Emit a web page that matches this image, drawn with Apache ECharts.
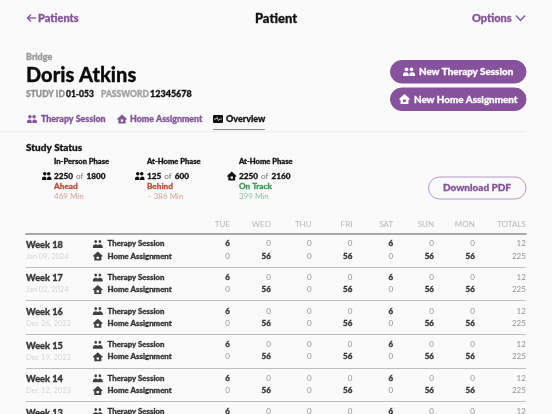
<!DOCTYPE html>
<html>
<head>
<meta charset="utf-8">
<style>html,body{margin:0;padding:0;background:#fafafa}#main{width:552px;height:414px}</style>
<script src="https://cdn.jsdelivr.net/npm/echarts@6/dist/echarts.min.js"></script>
</head>
<body>
<div id="main"></div>
<script>
var days = ['TUE', 'WED', 'THU', 'FRI', 'SAT', 'SUN', 'MON', 'TOTALS'];
var weeks = ['Week 18', 'Week 17', 'Week 16', 'Week 15', 'Week 14', 'Week 13'];
var dates = ['Jan 09, 2024', 'Jan 02, 2024', 'Dec 26, 2023', 'Dec 19, 2023', 'Dec 12, 2023'];
var therapyValues = [6, 0, 0, 0, 6, 0, 0, 12];
var homeValues = [0, 56, 0, 56, 0, 56, 56, 225];
var phaseNames = ['In-Person Phase', 'At-Home Phase', 'At-Home Phase'];
var phaseDone = [2250, 125, 2250];
var phaseTotal = [1800, 600, 2160];
var phaseState = ['Ahead', 'Behind', 'On Track'];
var phaseDelta = ['469 Min', '– 386 Min', '399 Min'];
var phaseIcons = ['people', 'people', 'house'];

var purple = '#85529b', font = 'Lato', heavy = 900;
var iconPaths = {
    people: 'M7 2a3.2 3.2 0 1 1-.01 0zM17 2a3.2 3.2 0 1 1-.01 0zM0 18c0-5 3-7 7-7 2 0 3.5.6 4.5 1.6.1.1.9.1 1 0C13.5 11.6 15 11 17 11c4 0 7 2 7 7v1H0z',
    house: 'M12 0L24 10.5 22 12.5 20.5 11V21H3.5V11L2 12.5 0 10.5zM9 12v5h6v-5z'
};

// table columns sit on a plain value axis, -5 is the left edge of the table
var colWeek = -5, colIcon = -3.24, colName = -3, colTotals = 7.25;
function colX(i) { return i === 7 ? colTotals : i; }

function textSeries(data, pos) {
    return {
        type: 'scatter', symbolSize: 0, clip: false, silent: true,
        data: data,
        label: { show: true, position: pos, distance: 0, fontFamily: font, formatter: function (p) { return p.data.value[2]; } }
    };
}
function item(x, y, text, size, weight, color) {
    var label = { fontSize: size, fontWeight: weight, color: color };
    // Lato is a bit thin next to the original face
    if (weight === heavy) { label.textBorderColor = color; label.textBorderWidth = 0.35; }
    return { value: [x, y, text], label: label };
}
function valueItem(i, y, v) {
    if (i === 7) return item(colX(i), y, v, 8, 'normal', '#777');
    return v ? item(colX(i), y, v, 8, heavy, '#111') : item(colX(i), y, v, 8, 'normal', '#777');
}
function iconSeries(name, data, w, h) {
    return { type: 'scatter', symbol: 'path://' + iconPaths[name], symbolSize: [w, h], clip: false, silent: true, itemStyle: { color: '#111' }, data: data };
}

var weekRows = [], dateRows = [], nameRows = [], cellRows = [], headRows = [], peopleRows = [], houseRows = [];
days.forEach(function (d, i) { headRows.push(item(colX(i), -0.28, d, 8, 'normal', '#a8a8a8')); });
weeks.forEach(function (w, k) {
    weekRows.push(item(colWeek, k + 0.34, w, 9.2, heavy, '#111'));
    nameRows.push(item(colName, k + 0.31, 'Therapy Session', 7.8, heavy, '#111'));
    peopleRows.push([colIcon, k + 0.31]);
    therapyValues.forEach(function (v, i) { cellRows.push(valueItem(i, k + 0.31, v)); });
    if (k < dates.length) {
        dateRows.push(item(colWeek, k + 0.68, dates[k], 7.5, 'normal', '#c8ccd0'));
        nameRows.push(item(colName, k + 0.67, 'Home Assignment', 7.8, heavy, '#111'));
        houseRows.push([colIcon, k + 0.67]);
        homeValues.forEach(function (v, i) { cellRows.push(valueItem(i, k + 0.67, v)); });
    }
});

function txt(x, y, text, size, weight, color, align) {
    var style = { text: text, fontFamily: font, fontSize: size, fontWeight: weight, fill: color, align: align || 'left', verticalAlign: 'middle' };
    if (weight === heavy) { style.stroke = color; style.lineWidth = 0.3; }
    return { type: 'text', x: x, y: y, silent: true, style: style };
}
function pill(x, y, w, h, fill, stroke) {
    return { type: 'rect', silent: true, shape: { x: x, y: y, width: w, height: h, r: h / 2 }, style: { fill: fill, stroke: stroke || fill } };
}
function line(points, color, width) {
    return { type: 'polyline', silent: true, shape: { points: points }, style: { fill: null, stroke: color, lineWidth: width } };
}
function circle(cx, cy, r, color) {
    return { type: 'circle', silent: true, shape: { cx: cx, cy: cy, r: r }, style: { fill: color } };
}
function poly(points, color) {
    return { type: 'polygon', silent: true, shape: { points: points }, style: { fill: color } };
}
function peopleIcon(x, y, w, h, color) {
    var r = h * 0.22;
    return [
        circle(x + w * 0.29, y + r, r, color),
        circle(x + w * 0.71, y + r, r, color),
        { type: 'rect', silent: true, shape: { x: x, y: y + h * 0.55, width: w * 0.47, height: h * 0.45, r: [h * 0.3, h * 0.3, 0, 0] }, style: { fill: color } },
        { type: 'rect', silent: true, shape: { x: x + w * 0.53, y: y + h * 0.55, width: w * 0.47, height: h * 0.45, r: [h * 0.3, h * 0.3, 0, 0] }, style: { fill: color } }
    ];
}
function houseIcon(x, y, w, h, color, hole) {
    return [
        poly([[x + w / 2, y], [x + w, y + h * 0.5], [x + w * 0.9, y + h * 0.6], [x + w * 0.86, y + h * 0.56], [x + w * 0.86, y + h], [x + w * 0.14, y + h], [x + w * 0.14, y + h * 0.56], [x + w * 0.1, y + h * 0.6], [x, y + h * 0.5]], color),
        { type: 'rect', silent: true, shape: { x: x + w * 0.38, y: y + h * 0.55, width: w * 0.24, height: h * 0.25 }, style: { fill: hole } }
    ];
}

var bg = '#fafafa';
var graphics = [
    line([[31, 14.5], [27.5, 18], [31, 21.5]], purple, 1.3),
    line([[27.5, 18], [36, 18]], purple, 1.3),
    txt(38, 18.5, 'Patients', 11, heavy, purple),
    txt(276, 18.5, 'Patient', 13, heavy, '#111', 'center'),
    txt(472, 18.5, 'Options', 11, heavy, purple),
    line([[516, 15.5], [520.5, 20.5], [525, 15.5]], purple, 1.3),
    txt(26, 57.5, 'Bridge', 9, heavy, '#999'),
    txt(26, 76, 'Doris Atkins', 20, heavy, '#0c0c0c'),
    txt(26, 94.5, 'STUDY ID', 8.5, heavy, '#8f8f8f'),
    txt(66, 94.5, '01-053', 8.5, heavy, '#111'),
    txt(101, 94.5, 'PASSWORD', 8.5, heavy, '#a0a0a0'),
    txt(150, 94.5, '12345678', 9, heavy, '#111'),
    txt(41, 119.5, 'Therapy Session', 8.9, heavy, purple),
    txt(130, 119.5, 'Home Assignment', 8.8, heavy, purple),
    { type: 'rect', silent: true, shape: { x: 213, y: 115, width: 10, height: 8, r: 1 }, style: { fill: '#111' } },
    line([[214, 119], [216, 119], [217, 117.5], [218.5, 120.5], [220, 119], [222, 119]], '#fff', 0.7),
    txt(226, 119.5, 'Overview', 9, heavy, '#111'),
    line([[0, 131.5], [526, 131.5]], '#f1f1f1', 1.5),
    line([[213, 129.5], [265, 129.5]], '#8c8c8c', 1.2),
    pill(390.5, 60.5, 135.5, 22.5, purple),
    txt(419, 72, 'New Therapy Session', 9.8, heavy, '#fff'),
    pill(390.5, 88, 135.5, 22.5, purple),
    txt(414, 99.5, 'New Home Assignment', 9.8, heavy, '#fff'),
    txt(26, 147.5, 'Study Status', 10, heavy, '#111'),
    pill(428.5, 177, 97.5, 22, bg, '#b898c8'),
    txt(477, 188, 'Download PDF', 10, heavy, purple, 'center')
].concat(
    peopleIcon(27, 115, 10, 8, purple),
    houseIcon(117, 114.5, 10, 9, purple, bg),
    peopleIcon(403, 67.5, 12, 8.5, '#fff'),
    houseIcon(399, 94, 11, 10, '#fff', purple)
);

var phaseX = [54, 147, 239];
var stateColor = ['#b5543f', '#b5543f', '#3f9a5c'], deltaColor = ['#d3a094', '#d3a094', '#8cc4a0'];
phaseNames.forEach(function (name, i) {
    var x = phaseX[i];
    graphics.push(txt(x, 161.5, name, 7.6, heavy, '#111'));
    graphics = graphics.concat(phaseIcons[i] === 'people' ? peopleIcon(x - 12, 172, 9.5, 8, '#111') : houseIcon(x - 12, 171.5, 9.5, 9, '#111', bg));
    graphics.push({
        type: 'text', x: x, y: 176.5, silent: true,
        style: {
            text: '{k|' + phaseDone[i] + '} {o|of} {k|' + phaseTotal[i] + '}', verticalAlign: 'middle', fontFamily: font,
            rich: {
                k: { fontFamily: font, fontSize: 8.2, fontWeight: heavy, fill: '#111', stroke: '#111', lineWidth: 0.3 },
                o: { fontFamily: font, fontSize: 8.2, fill: '#777' }
            }
        }
    });
    graphics.push(txt(x, 186.5, phaseState[i], 8.2, heavy, stateColor[i]));
    graphics.push(txt(x, 196.5, phaseDelta[i], 8, 'normal', deltaColor[i]));
});

var chart = echarts.init(document.getElementById('main'));
chart.setOption({
    animation: false,
    backgroundColor: bg,
    // the last rows run past the bottom of the window, as in the screenshot
    grid: { left: 26, top: 233.5, width: 499.8, height: 201.6, outerBoundsMode: 'none' },
    xAxis: {
        type: 'value', position: 'top', min: colWeek, max: colTotals,
        axisLine: { show: true, lineStyle: { color: '#a9a9a9', width: 2 } },
        axisTick: { show: false }, axisLabel: { show: false }, splitLine: { show: false }
    },
    yAxis: {
        type: 'value', inverse: true, min: 0, max: 6, interval: 1,
        axisLine: { show: false }, axisTick: { show: false }, axisLabel: { show: false },
        splitLine: { show: true, lineStyle: { color: '#bdbdbd', width: 1 } }
    },
    series: [
        textSeries(headRows, 'left'),
        textSeries(weekRows, 'right'),
        textSeries(dateRows, 'right'),
        textSeries(nameRows, 'right'),
        textSeries(cellRows, 'left'),
        iconSeries('people', peopleRows, 10, 8),
        iconSeries('house', houseRows, 10, 9)
    ],
    graphic: graphics
});
</script>
</body>
</html>
